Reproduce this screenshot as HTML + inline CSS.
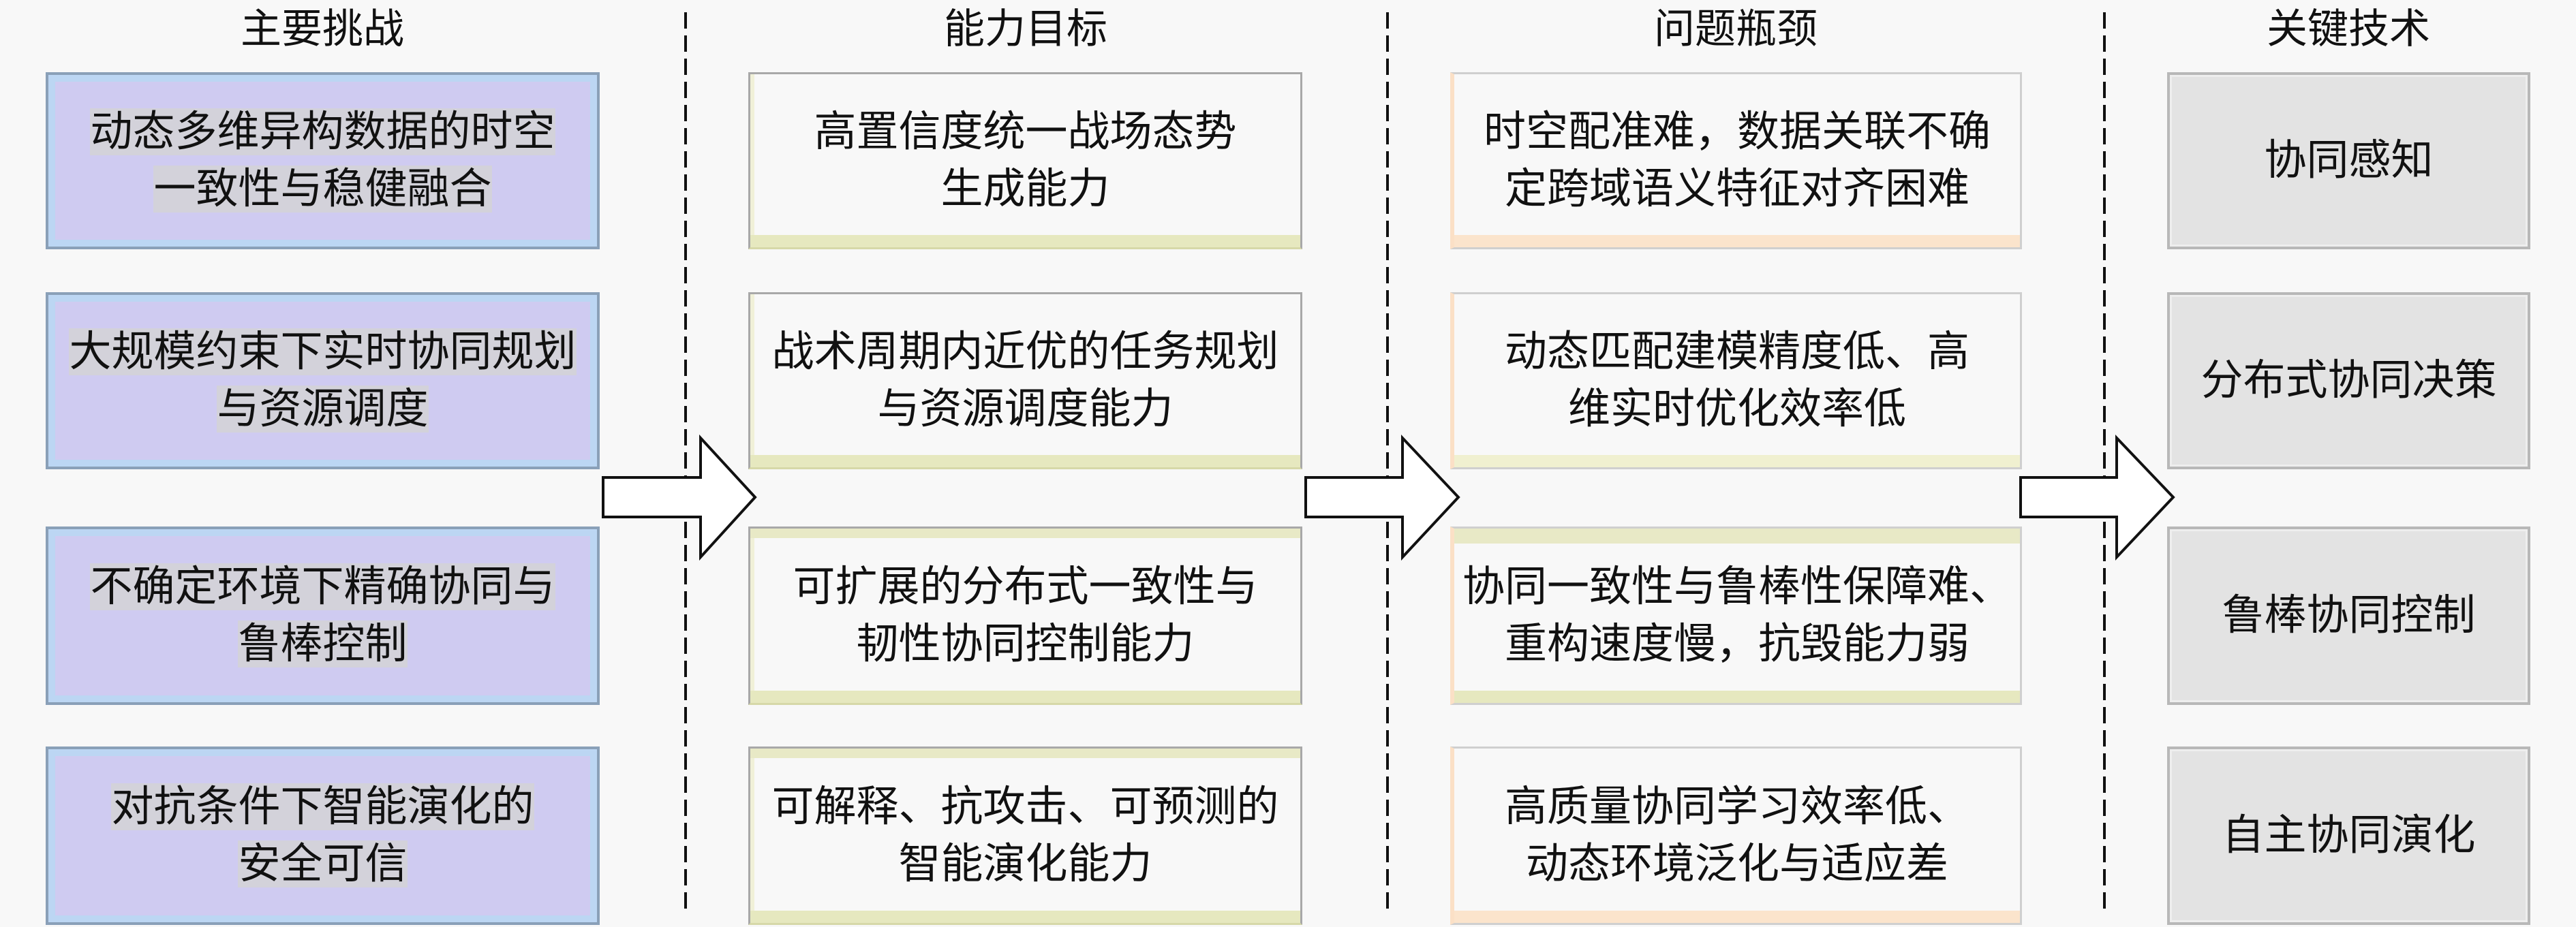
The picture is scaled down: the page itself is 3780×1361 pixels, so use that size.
<!DOCTYPE html>
<html><head><meta charset="utf-8">
<style>
html,body{margin:0;padding:0;}
body{width:3780px;height:1361px;background:#f8f8f8;position:relative;overflow:hidden;
font-family:"Liberation Sans","Noto Sans CJK SC","WenQuanYi Zen Hei",sans-serif;color:#111;}
.t{position:absolute;top:6px;height:74px;line-height:74px;font-size:60px;text-align:center;width:600px;}
.b{position:absolute;box-sizing:border-box;display:flex;align-items:center;justify-content:center;text-align:center;font-size:62px;line-height:84px;}
.c1{background:#cfcbf1;border:4px solid #8aa0b8;box-shadow:inset 0 0 0 10px #bcd6f3;}
.c2{background:#f8f8f8;border:3px solid #a8a8a8;border-bottom-color:#d6d8a8;box-shadow:inset 0 -18px 0 #e6e8bf, inset 6px 0 0 #f0f0d8;}
.c3{background:#f8f8f8;border:3px solid #cfcfcf;border-left:6px solid #fbe0c6;box-shadow:inset 0 -18px 0 #fbe4cc;}
.c4{background:#e3e3e3;border:4px solid #b8b8b8;box-shadow:inset 0 0 0 3px #eeeeee;}
.c1 span{background:#d3d2da;}
</style></head><body>
<div class="t" style="left:173px">主要挑战</div>
<div class="t" style="left:1205px">能力目标</div>
<div class="t" style="left:2247px">问题瓶颈</div>
<div class="t" style="left:3146px">关键技术</div>

<svg width="3780" height="1361" style="position:absolute;left:0;top:0">
<g stroke="#111" stroke-width="4" stroke-dasharray="24 10" fill="none">
<line x1="1006" y1="18" x2="1006" y2="1340"/>
<line x1="2036" y1="18" x2="2036" y2="1340"/>
<line x1="3088" y1="18" x2="3088" y2="1340"/>
</g>
<g fill="#fff" stroke="#111" stroke-width="4">
<polygon points="885,701 1028,701 1028,643 1108,730 1028,818 1028,759 885,759"/>
<polygon points="1916,701 2058,701 2058,643 2140,730 2058,818 2058,759 1916,759"/>
<polygon points="2965,701 3106,701 3106,643 3189,730 3106,818 3106,759 2965,759"/>
</g>
</svg>

<div class="b c1" style="left:67px;top:106px;width:813px;height:260px"><div><span>动态多维异构数据的时空</span><br><span>一致性与稳健融合</span></div></div>
<div class="b c1" style="left:67px;top:429px;width:813px;height:260px"><div><span>大规模约束下实时协同规划</span><br><span>与资源调度</span></div></div>
<div class="b c1" style="left:67px;top:773px;width:813px;height:262px"><div><span>不确定环境下精确协同与</span><br><span>鲁棒控制</span></div></div>
<div class="b c1" style="left:67px;top:1096px;width:813px;height:262px"><div><span>对抗条件下智能演化的</span><br><span>安全可信</span></div></div>

<div class="b c2" style="left:1098px;top:106px;width:813px;height:260px"><div>高置信度统一战场态势<br>生成能力</div></div>
<div class="b c2" style="left:1098px;top:429px;width:813px;height:260px"><div>战术周期内近优的任务规划<br>与资源调度能力</div></div>
<div class="b c2" style="left:1098px;top:773px;width:813px;height:262px;box-shadow:inset 0 14px 0 #e8e9c6, inset 0 -18px 0 #e6e8bf, inset 6px 0 0 #f0f0d8;"><div>可扩展的分布式一致性与<br>韧性协同控制能力</div></div>
<div class="b c2" style="left:1098px;top:1096px;width:813px;height:262px;box-shadow:inset 0 14px 0 #e8e9c6, inset 0 -18px 0 #e6e8bf, inset 6px 0 0 #f0f0d8;"><div>可解释、抗攻击、可预测的<br>智能演化能力</div></div>

<div class="b c3" style="left:2128px;top:106px;width:839px;height:260px"><div>时空配准难，数据关联不确<br>定跨域语义特征对齐困难</div></div>
<div class="b c3" style="left:2128px;top:429px;width:839px;height:260px;box-shadow:inset 0 -18px 0 #f0f0d0;"><div>动态匹配建模精度低、高<br>维实时优化效率低</div></div>
<div class="b c3" style="left:2128px;top:773px;width:839px;height:262px;box-shadow:inset 0 22px 0 #e8e9c6, inset 0 -18px 0 #e6e8bf;"><div>协同一致性与鲁棒性保障难、<br>重构速度慢，抗毁能力弱</div></div>
<div class="b c3" style="left:2128px;top:1096px;width:839px;height:262px"><div>高质量协同学习效率低、<br>动态环境泛化与适应差</div></div>

<div class="b c4" style="left:3180px;top:106px;width:533px;height:260px"><div>协同感知</div></div>
<div class="b c4" style="left:3180px;top:429px;width:533px;height:260px"><div>分布式协同决策</div></div>
<div class="b c4" style="left:3180px;top:773px;width:533px;height:262px"><div>鲁棒协同控制</div></div>
<div class="b c4" style="left:3180px;top:1096px;width:533px;height:262px"><div>自主协同演化</div></div>
</body></html>
